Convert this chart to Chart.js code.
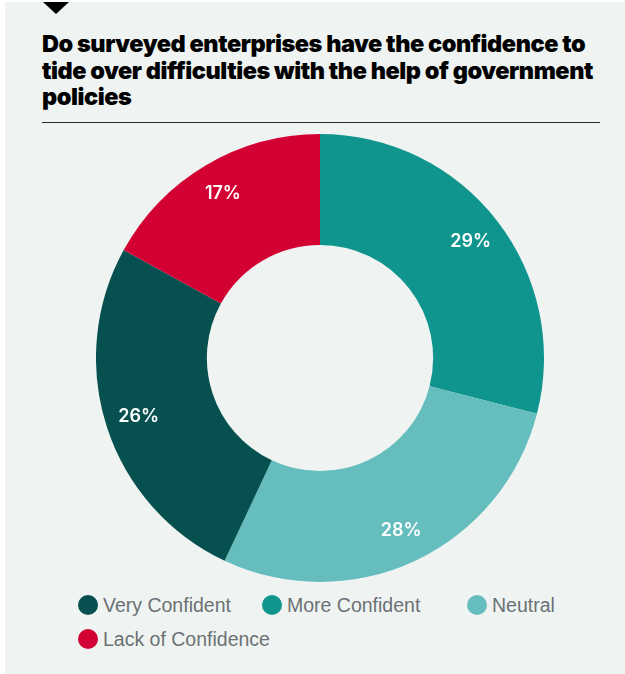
<!DOCTYPE html>
<html>
<head>
<meta charset="utf-8">
<script src="https://cdn.jsdelivr.net/npm/chart.js@4"></script>
<style>
  html, body { margin: 0; padding: 0; background: #ffffff; }
  body { width: 625px; height: 674px; position: relative; overflow: hidden; }
  .panel { position: absolute; left: 5px; top: 2px; right: 0; bottom: 0; background: #eff4f2; }
  .marker { position: absolute; left: 43px; top: 2px; width: 0; height: 0;
            border-left: 13px solid transparent; border-right: 13px solid transparent;
            border-top: 12px solid #000; }
  h1 { position: absolute; left: 42px; top: 31px; margin: 0; width: 590px;
       font-family: "Inter", "Liberation Sans", sans-serif; font-weight: 900;
       font-size: 23.5px; line-height: 26.5px; letter-spacing: -0.45px; color: #000; }
  .rule { position: absolute; left: 42px; top: 122px; width: 558px; height: 1px; background: #2a2a2a; }
  #chartBox { position: absolute; left: 96px; top: 134px; width: 448px; height: 448px; }
  .legend { position: absolute; left: 78px; top: 594px; display: grid;
            grid-template-columns: 184px 205px auto; row-gap: 12px;
            font-family: "Liberation Sans", Arial, sans-serif; font-size: 19.5px; color: #6b7174; }
  .legend .item { display: flex; align-items: center; height: 22px; white-space: nowrap; }
  .legend .dot { width: 20px; height: 20px; border-radius: 50%; margin-right: 5px; flex: none; }
</style>
</head>
<body>
<div class="panel"></div>
<div class="marker"></div>
<h1>Do surveyed enterprises have the confidence to<br>tide over difficulties with the help of government<br>policies</h1>
<div class="rule"></div>
<div id="chartBox"><canvas id="donut" width="448" height="448"></canvas></div>
<div class="legend" id="legend"></div>
<script>
// Survey answers, in clockwise order from 12 o'clock
const categories = ['More Confident', 'Neutral', 'Very Confident', 'Lack of Confidence'];
const shares = [29, 28, 26, 17];
// Order in which the key lists the answers
const legendOrder = ['Very Confident', 'More Confident', 'Neutral', 'Lack of Confidence'];

const palette = {
  'Very Confident': '#06504f',
  'More Confident': '#0f958e',
  'Neutral': '#66bdbe',
  'Lack of Confidence': '#d30034'
};

// White percentage text placed inside each ring segment
const sliceLabels = {
  id: 'sliceLabels',
  afterDatasetsDraw(chart) {
    const ctx = chart.ctx;
    const meta = chart.getDatasetMeta(0);
    const values = chart.data.datasets[0].data;
    ctx.save();
    ctx.fillStyle = '#ffffff';
    ctx.font = '600 18px "Inter", "Liberation Sans", sans-serif';
    ctx.textAlign = 'center';
    ctx.textBaseline = 'middle';
    meta.data.forEach((arc, i) => {
      const p = arc.getProps(['x', 'y', 'startAngle', 'endAngle', 'innerRadius', 'outerRadius'], true);
      const mid = (p.startAngle + p.endAngle) / 2;
      const r = p.innerRadius + (p.outerRadius - p.innerRadius) * 0.7;
      ctx.fillText(values[i] + '%', p.x + Math.cos(mid) * r, p.y + Math.sin(mid) * r);
    });
    ctx.restore();
  }
};

new Chart(document.getElementById('donut'), {
  type: 'doughnut',
  data: {
    labels: categories,
    datasets: [{
      data: shares,
      backgroundColor: categories.map(c => palette[c]),
      borderWidth: 0,
      hoverOffset: 0
    }]
  },
  options: {
    responsive: false,
    animation: false,
    cutout: '50.5%',
    layout: { padding: 0 },
    plugins: {
      legend: { display: false },
      tooltip: { enabled: false }
    }
  },
  plugins: [sliceLabels]
});

// Key below the ring
const legendEl = document.getElementById('legend');
legendOrder.forEach(name => {
  const item = document.createElement('div');
  item.className = 'item';
  const dot = document.createElement('span');
  dot.className = 'dot';
  dot.style.background = palette[name];
  const txt = document.createElement('span');
  txt.textContent = name;
  item.appendChild(dot);
  item.appendChild(txt);
  legendEl.appendChild(item);
});
</script>
</body>
</html>
